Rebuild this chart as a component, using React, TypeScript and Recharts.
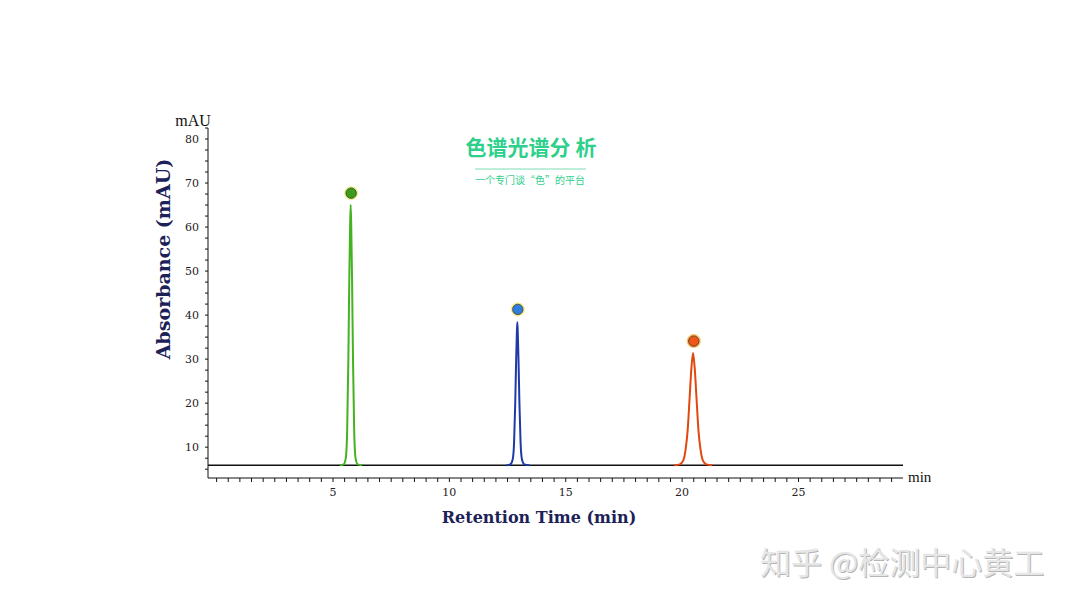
import React from "react";
import { ComposedChart, Line, Scatter, XAxis, YAxis } from "recharts";

document.body.style.margin = "0";

// retention time (min) / absorbance (mAU)
const baseTime = [-0.4, 29.5];
const baseAbs = [5.9, 5.9];

const greenTime = [5.3, 5.46, 5.55, 5.61, 5.66, 5.7, 5.735, 5.76, 5.785, 5.82, 5.86, 5.91, 5.97, 6.06, 6.25];
const greenAbs = [5.9, 6.1, 7.5, 14, 30, 48, 60, 65, 60, 48, 30, 14, 7.5, 6.1, 5.9];

const blueTime = [12.45, 12.62, 12.72, 12.78, 12.83, 12.87, 12.9, 12.92, 12.94, 12.97, 13.01, 13.06, 13.12, 13.22, 13.45];
const blueAbs = [5.9, 6.1, 7.2, 11, 20, 30, 36, 38.4, 36, 30, 20, 11, 7.2, 6.1, 5.9];

const redTime = [19.65, 19.9, 20.05, 20.15, 20.24, 20.32, 20.4, 20.47, 20.54, 20.62, 20.7, 20.79, 20.89, 21.04, 21.3];
const redAbs = [5.9, 6.1, 7, 9.5, 14, 21, 28, 31.4, 28, 21, 14, 9.5, 7, 6.1, 5.9];

// peak apex markers
const markerTime = [5.78, 12.94, 20.5];
const markerAbs = [67.7, 41.3, 34.1];
const markerFill = ["#3c9c1c", "#2f7ddf", "#f0561a"];
const markerRing = ["#e4f27a", "#f3e77a", "#ffb24a"];

const xLabels = [5, 10, 15, 20, 25];
const yLabels = [10, 20, 30, 40, 50, 60, 70, 80];

const xTicks: number[] = [];
for (let t = 0; t <= 29; t += 0.5) xTicks.push(t);
const yTicks: number[] = [];
for (let v = 5; v <= 82.5; v += 2.5) yTicks.push(v);

const zip = (ts: number[], vs: number[]) => ts.map((t, i) => ({ t, v: vs[i] }));

const baseData = zip(baseTime, baseAbs);
const greenData = zip(greenTime, greenAbs);
const blueData = zip(blueTime, blueAbs);
const redData = zip(redTime, redAbs);
const markerData = markerTime.map((t, i) => ({ t, v: markerAbs[i], fill: markerFill[i], ring: markerRing[i] }));

const tickFont = { fontSize: 11, fill: "#222", fontFamily: "'DejaVu Serif', serif" };
const titleColor = "#1c2157";

function Dot(props: any) {
  const { cx, cy, payload } = props;
  return (
    <g>
      <circle cx={cx} cy={cy} r={7} fill={payload.ring} opacity={0.85} />
      <circle cx={cx} cy={cy} r={5.2} fill={payload.fill} stroke="#3a3a2a" strokeWidth={0.8} />
    </g>
  );
}

export default function App() {
  return (
    <div style={{ position: "relative", width: 1078, height: 606, background: "#fff" }}>
      <ComposedChart
        width={1078}
        height={606}
        margin={{ top: 128, right: 175, bottom: 98, left: 148 }}
      >
        <XAxis
          type="number"
          dataKey="t"
          domain={[-0.37, 29.49]}
          ticks={xTicks}
          interval={0}
          allowDataOverflow
          height={30}
          tickSize={4}
          tickMargin={6}
          tick={tickFont}
          tickFormatter={(t: number) => (xLabels.includes(t) ? String(t) : "")}
          stroke="#111"
        />
        <YAxis
          type="number"
          dataKey="v"
          domain={[3, 82.5]}
          ticks={yTicks}
          interval={0}
          allowDataOverflow
          width={60}
          tickSize={3}
          tickMargin={6}
          tick={tickFont}
          tickFormatter={(v: number) => (yLabels.includes(v) ? String(v) : "")}
          stroke="#111"
        />
        <Line data={baseData} dataKey="v" stroke="#111" strokeWidth={1.3} dot={false} isAnimationActive={false} />
        <Line data={greenData} dataKey="v" type="monotone" stroke="#45b222" strokeWidth={2} dot={false} isAnimationActive={false} />
        <Line data={blueData} dataKey="v" type="monotone" stroke="#1f3aa8" strokeWidth={2} dot={false} isAnimationActive={false} />
        <Line data={redData} dataKey="v" type="monotone" stroke="#e2470f" strokeWidth={2} dot={false} isAnimationActive={false} />
        <Scatter data={markerData} dataKey="v" shape={<Dot />} isAnimationActive={false} />
      </ComposedChart>
      <svg
        width={1078}
        height={606}
        style={{ position: "absolute", left: 0, top: 0, pointerEvents: "none" }}
      >
        <text x={193} y={126} textAnchor="middle" fontSize={16} fontFamily="'Liberation Serif', serif" fill="#111">
          mAU
        </text>
        <text x={908} y={482} fontSize={15} fontFamily="'Liberation Serif', serif" fill="#111">
          min
        </text>
        <text
          x={0}
          y={0}
          transform="translate(170 259) rotate(-90)"
          textAnchor="middle"
          fontSize={19}
          fontWeight="bold"
          fontFamily="'DejaVu Serif', serif"
          fill={titleColor}
        >
          Absorbance (mAU)
        </text>
        <text x={539} y={523} textAnchor="middle" fontSize={16} fontWeight="bold" fontFamily="'DejaVu Serif', serif" fill={titleColor}>
          Retention Time (min)
        </text>
        <text x={531} y={155} textAnchor="middle" fontSize={21} fontWeight="bold" fontFamily="'Noto Sans CJK SC', sans-serif" fill="#2fcf8c">
          色谱光谱分 析
        </text>
        <line x1={475} y1={169} x2={586} y2={169} stroke="#7fdcb5" strokeWidth={1} />
        <text x={530} y={184} textAnchor="middle" fontSize={10} fontFamily="'Noto Sans CJK SC', sans-serif" fill="#2fcf8c">
          一个专门谈“色”的平台
        </text>
        <text x={761} y={575} fontSize={31} fontFamily="'Noto Sans CJK SC', sans-serif" fill="#b5b5b5">
          知乎 @检测中心黄工
        </text>
        <text x={760} y={574} fontSize={31} fontFamily="'Noto Sans CJK SC', sans-serif" fill="#e6e6e6">
          知乎 @检测中心黄工
        </text>
      </svg>
    </div>
  );
}
